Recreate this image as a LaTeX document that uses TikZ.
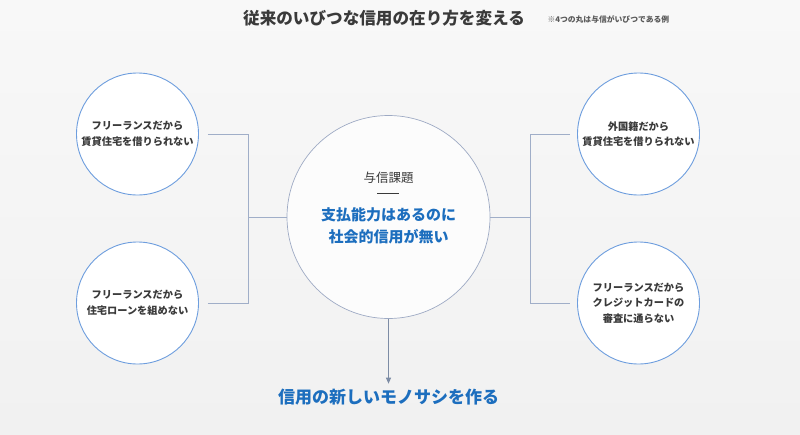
\documentclass[tikz,border=0pt]{standalone}
\usepackage{fontspec}
\usepackage{xcolor}
\usepackage{tikz}
\usetikzlibrary{arrows.meta, positioning}
\newfontfamily\jpfont{Noto Sans CJK JP}
\definecolor{inkgray}{RGB}{58,58,58}
\definecolor{softgray}{RGB}{90,90,90}
\definecolor{trustblue}{RGB}{28,110,190}
\definecolor{ringblue}{RGB}{110,158,222}
\definecolor{hubring}{RGB}{158,170,196}
\definecolor{linkgray}{RGB}{160,174,200}
\definecolor{arrowgray}{RGB}{125,140,165}
\definecolor{bgtop}{RGB}{248,248,248}
\definecolor{bgbottom}{RGB}{241,241,241}

\tikzset{
  casebox/.style={circle, draw=ringblue, line width=0.9pt, fill=white,
    minimum size=122pt, inner sep=0pt, align=center,
    font=\jpfont\bfseries\fontsize{10.2}{15.5}\selectfont, text=inkgray},
  hubbox/.style={circle, draw=hubring, line width=0.7pt, fill=white!60!bgtop,
    minimum size=203pt, inner sep=0pt},
  link/.style={draw=linkgray, line width=0.8pt},
}

\begin{document}
\begin{tikzpicture}[x=1pt, y=-1pt]
    \useasboundingbox (0,0) rectangle (800,434);
    \shade[top color=bgtop, bottom color=bgbottom] (0,0) rectangle (800,434);

    % heading
    \node[font=\jpfont\bfseries\fontsize{16.6}{20}\selectfont, text=inkgray] (heading) at (384,18)
      {従来のいびつな信用の在り方を変える};
    \node[font=\jpfont\bfseries\fontsize{7.8}{10}\selectfont, text=softgray, anchor=west] (note) at (544,19)
      {※4つの丸は与信がいびつである例};

    % center circle
    \node[hubbox] (hub) at (388.5,217) {};
    \node[font=\jpfont\fontsize{12.5}{15}\selectfont, text=inkgray] (hubtitle) at (388.5,178) {与信課題};
    \draw[inkgray, line width=0.7pt] (377,193) -- (399,193);
    \node[font=\jpfont\bfseries\fontsize{15}{22}\selectfont, text=trustblue, align=center] (hubtext) at (388.5,226)
      {支払能力はあるのに\\社会的信用が無い};

    % examples
    \node[casebox] (caseA) at (137.5,134) {フリーランスだから\\賃貸住宅を借りられない};
    \node[casebox] (caseB) at (137.5,303) {フリーランスだから\\住宅ローンを組めない};
    \node[casebox] (caseC) at (638.5,134) {外国籍だから\\賃貸住宅を借りられない};
    \node[casebox] (caseD) at (638.5,303) {フリーランスだから\\クレジットカードの\\審査に通らない};

    % connectors
    \coordinate (leftjoin) at (248,217);
    \coordinate (rightjoin) at (530,217);
    \draw[link, shorten <=9pt] (caseA.east) -| (leftjoin);
    \draw[link, shorten <=9pt] (caseB.east) -| (leftjoin);
    \draw[link] (leftjoin) -- (hub.west);
    \draw[link, shorten <=7pt] (caseC.west) -| (rightjoin);
    \draw[link, shorten <=7pt] (caseD.west) -| (rightjoin);
    \draw[link] (rightjoin) -- (hub.east);

    % goal
    \node[font=\jpfont\bfseries\fontsize{17}{20}\selectfont, text=trustblue, inner sep=2pt] (goal) at (388.5,397)
      {信用の新しいモノサシを作る};
    \draw[arrowgray, line width=0.9pt, -{Triangle[length=6pt, width=5pt]}, shorten >=3pt] (hub.south) -- (goal.north);
  \end{tikzpicture}
\end{document}
